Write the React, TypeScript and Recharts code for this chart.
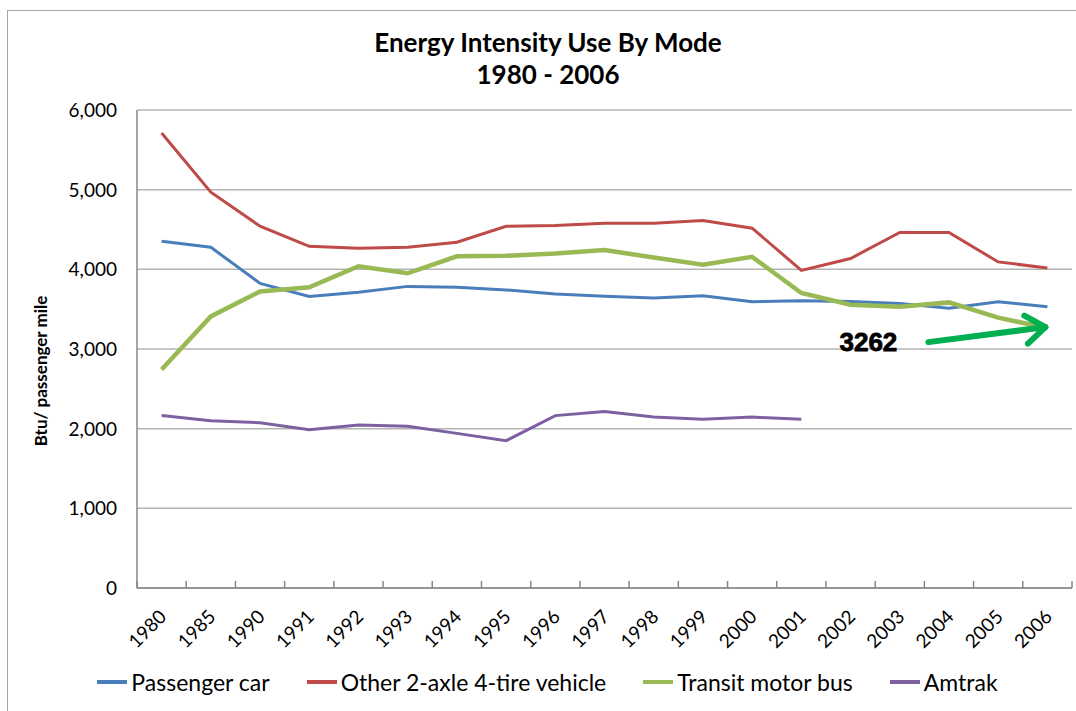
import React from 'react';
import {
  LineChart, Line, XAxis, YAxis, CartesianGrid, Legend, ReferenceDot,
} from 'recharts';

const years = ['1980', '1985', '1990', '1991', '1992', '1993', '1994', '1995', '1996', '1997', '1998', '1999', '2000', '2001', '2002', '2003', '2004', '2005', '2006'];
const passengerCar = [4352, 4277, 3824, 3660, 3711, 3786, 3774, 3742, 3691, 3661, 3640, 3669, 3593, 3606, 3597, 3572, 3513, 3593, 3530];
const otherVehicle = [5711, 4969, 4541, 4289, 4264, 4277, 4340, 4541, 4551, 4580, 4580, 4614, 4517, 3987, 4136, 4462, 4462, 4093, 4017];
const transitBus = [2742, 3409, 3723, 3774, 4038, 3950, 4164, 4170, 4199, 4242, 4148, 4059, 4157, 3703, 3555, 3530, 3585, 3394, 3262];
const amtrak = [2164, 2100, 2075, 1987, 2045, 2030, 1941, 1849, 2164, 2214, 2145, 2117, 2145, 2117, null, null, null, null, null];
const seriesNames = ['Passenger car', 'Other 2-axle 4-tire vehicle', 'Transit motor bus', 'Amtrak'];
const seriesColors = ['#4a7ebb', '#be4b48', '#98b954', '#7d60a0'];
const yTicks = [0, 1000, 2000, 3000, 4000, 5000, 6000];
const annotationYear = '2006';
const annotationValue = 3262;

const data = years.map((year, i) => ({
  year,
  idx: i,
  car: passengerCar[i],
  other: otherVehicle[i],
  bus: transitBus[i],
  amtrak: amtrak[i],
}));
const boundaryTicks = years.map((_, i) => i).concat(years.length);

const FONT = 'Lato, "Open Sans", sans-serif';

const XTick = (props: any) => {
  const { x, y, payload } = props;
  return (
    <g transform={`translate(${x + 6},${y + 30})`}>
      <text x={0} y={0} textAnchor="end" transform="rotate(-45)" fontSize={19} fontFamily={FONT} fill="#000">
        {payload.value}
      </text>
    </g>
  );
};

const EmptyTick = () => <g />;

const YTick = (props: any) => {
  const { x, y, payload } = props;
  return (
    <text x={x} y={y} dy="0.36em" textAnchor="end" fontSize={19} fontFamily={FONT} fill="#000">
      {Number(payload.value).toLocaleString('en-US')}
    </text>
  );
};

const ArrowNote = (props: any) => {
  const { cx, cy } = props;
  if (cx == null || cy == null) return null;
  const tipX = cx - 2;
  const tipY = cy - 1;
  const tailX = cx - 119;
  const tailY = cy + 14;
  const ang = Math.atan2(tipY - tailY, tipX - tailX);
  const len = 24;
  const a1 = ang + Math.PI * 0.8;
  const a2 = ang - Math.PI * 0.8;
  return (
    <g>
      <text x={cx - 179} y={cy + 23} textAnchor="middle" fontSize={26} fontWeight="bold"
        fontFamily='"Liberation Sans Narrow", "Liberation Sans", sans-serif' fill="#000"
        stroke="#000" strokeWidth={0.8}>
        {annotationValue}
      </text>
      <line x1={tailX} y1={tailY} x2={tipX} y2={tipY} stroke="#00b050" strokeWidth={6} strokeLinecap="round" />
      <polyline
        points={`${tipX + len * Math.cos(a1)},${tipY + len * Math.sin(a1)} ${tipX},${tipY} ${tipX + len * Math.cos(a2)},${tipY + len * Math.sin(a2)}`}
        fill="none" stroke="#00b050" strokeWidth={6} strokeLinecap="round" strokeLinejoin="round" />
    </g>
  );
};

const renderLegend = () => (
  <div style={{ display: 'flex', justifyContent: 'center', alignItems: 'center', gap: 36, paddingLeft: 22, fontFamily: FONT, fontSize: 23, color: '#000', lineHeight: '28px' }}>
    {seriesNames.map((name, i) => (
      <div key={name} style={{ display: 'flex', alignItems: 'center' }}>
        <svg width={32} height={10}>
          <line x1={1} y1={5} x2={31} y2={5} stroke={seriesColors[i]} strokeWidth={4} />
        </svg>
        <span style={{ marginLeft: 3, whiteSpace: 'nowrap' }}>{name}</span>
      </div>
    ))}
  </div>
);

export default function App() {
  return (
    <div style={{ position: 'absolute', left: 0, top: 0, width: 1076, height: 711, overflow: 'hidden', background: '#fff', fontFamily: FONT }}>
      <div style={{ position: 'absolute', left: 7, top: 10, width: 1120, height: 760, border: '1.5px solid #a6a6a6', boxSizing: 'border-box' }} />
      <div style={{ position: 'absolute', left: 20, top: 26, width: 1056, textAlign: 'center', fontWeight: 'bold', fontSize: 26, lineHeight: '32px', color: '#000' }}>
        <div>Energy Intensity Use By Mode</div>
        <div>1980 - 2006</div>
      </div>
      <div style={{ position: 'absolute', left: 40, top: 371, transform: 'translate(-50%,-50%) rotate(-90deg)', whiteSpace: 'nowrap', fontWeight: 'bold', fontSize: 17, color: '#000' }}>
        Btu/ passenger mile
      </div>
      <div style={{ position: 'absolute', left: 0, top: 0 }}>
        <LineChart width={1076} height={711} data={data} margin={{ top: 110, right: 4, bottom: 3, left: 0 }}>
          <CartesianGrid xAxisId="cat" vertical={false} stroke="#b4b4b4" strokeWidth={1.5} />
          <XAxis xAxisId="bounds" type="number" dataKey="idx" domain={[0, years.length]} ticks={boundaryTicks}
            allowDataOverflow tick={<EmptyTick />} tickLine={{ stroke: '#868686', strokeWidth: 1.5 }} tickSize={7} mirror
            axisLine={false} height={1} />
          <XAxis xAxisId="cat" dataKey="year" type="category" scale="band" height={80} tick={<XTick />} tickLine={false}
            tickSize={0} tickMargin={0} interval={0} axisLine={{ stroke: '#868686', strokeWidth: 1.5 }} />
          <YAxis domain={[0, 6000]} ticks={yTicks} width={137} tick={<YTick />} tickLine={false} tickSize={0}
            tickMargin={20} axisLine={{ stroke: '#868686', strokeWidth: 1.5 }} interval={0} />
          <Legend verticalAlign="bottom" height={40} content={renderLegend} />
          <Line xAxisId="cat" type="linear" dataKey="car" name={seriesNames[0]} stroke={seriesColors[0]} strokeWidth={3} dot={false} isAnimationActive={false} />
          <Line xAxisId="cat" type="linear" dataKey="other" name={seriesNames[1]} stroke={seriesColors[1]} strokeWidth={3} dot={false} isAnimationActive={false} />
          <Line xAxisId="cat" type="linear" dataKey="bus" name={seriesNames[2]} stroke={seriesColors[2]} strokeWidth={4.5} dot={false} isAnimationActive={false} />
          <Line xAxisId="cat" type="linear" dataKey="amtrak" name={seriesNames[3]} stroke={seriesColors[3]} strokeWidth={3} dot={false} isAnimationActive={false} />
          <ReferenceDot xAxisId="cat" x={annotationYear} y={annotationValue} r={0} shape={<ArrowNote />} />
        </LineChart>
      </div>
    </div>
  );
}
